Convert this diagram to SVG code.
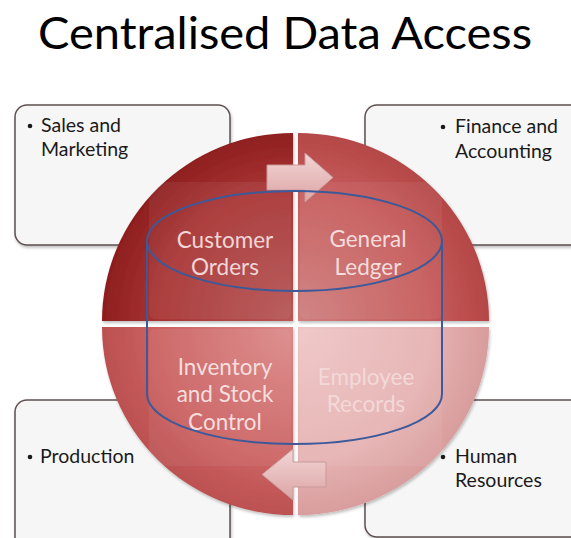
<svg xmlns="http://www.w3.org/2000/svg" width="571" height="538" viewBox="0 0 571 538">
<defs>
<style>
.box{fill:#f6f6f6;stroke:#5e5050;stroke-width:1.5}
.btxt{font-family:Lato,"Liberation Sans",sans-serif;font-size:19.5px;fill:#1a1a1a}
.qtxt{font-family:Lato,"Liberation Sans",sans-serif;font-size:22.5px;text-anchor:middle}
.cyl{fill:none;stroke:#3c5a9a;stroke-width:2}
.arrow{stroke:#c89a9a;stroke-width:1}
</style>
<radialGradient id="gTL" gradientUnits="userSpaceOnUse" cx="293" cy="321" r="191">
<stop offset="0" stop-color="#b65656"/><stop offset="0.7" stop-color="#a83434"/><stop offset="1" stop-color="#8e1e1e"/>
</radialGradient>
<radialGradient id="gTR" gradientUnits="userSpaceOnUse" cx="298" cy="321" r="191">
<stop offset="0" stop-color="#ce7e7e"/><stop offset="0.7" stop-color="#c65a5a"/><stop offset="1" stop-color="#b44646"/>
</radialGradient>
<radialGradient id="gBL" gradientUnits="userSpaceOnUse" cx="293" cy="327" r="191">
<stop offset="0" stop-color="#dc8a8a"/><stop offset="0.7" stop-color="#cc6262"/><stop offset="1" stop-color="#bc5050"/>
</radialGradient>
<radialGradient id="gBR" gradientUnits="userSpaceOnUse" cx="298" cy="327" r="191">
<stop offset="0" stop-color="#efc6c6"/><stop offset="0.7" stop-color="#e6b2b2"/><stop offset="1" stop-color="#d89c9c"/>
</radialGradient>
<linearGradient id="gArr" x1="0" y1="0" x2="0" y2="1">
<stop offset="0" stop-color="#f3d6d6"/><stop offset="1" stop-color="#dca4a4"/>
</linearGradient>
<filter id="sh" x="-10%" y="-10%" width="120%" height="120%">
<feDropShadow dx="1" dy="2" stdDeviation="1.5" flood-color="#000" flood-opacity="0.25"/>
</filter>
</defs>
<rect width="571" height="538" fill="#ffffff"/>
<text id="title" x="285" y="49" font-family="Lato,'Liberation Sans',sans-serif" font-size="44" text-anchor="middle" fill="#000" textLength="494" lengthAdjust="spacingAndGlyphs">Centralised Data Access</text>

<g id="box-sales" filter="url(#sh)">
<rect class="box" x="15" y="105" width="215" height="140" rx="12"/>
</g>
<g id="box-finance" filter="url(#sh)">
<rect class="box" x="365" y="105" width="220" height="140" rx="12"/>
</g>
<g id="box-production" filter="url(#sh)">
<rect class="box" x="15" y="400" width="215" height="150" rx="12"/>
</g>
<g id="box-hr" filter="url(#sh)">
<rect class="box" x="365" y="400" width="220" height="137" rx="12"/>
</g>

<g id="q-customer">
<path d="M293 321 L102 321 A191 188 0 0 1 293 133 Z" fill="url(#gTL)" filter="url(#sh)"/>
<rect x="149" y="182" width="142" height="137" rx="6" fill="#ffffff" fill-opacity="0.06"/>
</g>
<g id="q-ledger">
<path d="M298 321 L298 133 A191 188 0 0 1 489 321 Z" fill="url(#gTR)" filter="url(#sh)"/>
<rect x="300" y="182" width="142" height="137" rx="6" fill="#ffffff" fill-opacity="0.06"/>
</g>
<g id="q-inventory">
<path d="M293 327 L293 515 A191 188 0 0 1 102 327 Z" fill="url(#gBL)" filter="url(#sh)"/>
<rect x="149" y="329" width="142" height="137" rx="6" fill="#ffffff" fill-opacity="0.06"/>
</g>
<g id="q-employee">
<path d="M298 327 L489 327 A191 188 0 0 1 298 515 Z" fill="url(#gBR)" filter="url(#sh)"/>
<rect x="300" y="329" width="142" height="137" rx="6" fill="#ffffff" fill-opacity="0.06"/>
</g>

<g id="connectors">
<path class="arrow" d="M267 165 L305 165 L305 153 L333 177.5 L305 202 L305 190 L267 190 Z" fill="url(#gArr)"/>
<path class="arrow" d="M326 462 L293 462 L293 449 L262 474.5 L293 500 L293 487 L326 487 Z" fill="url(#gArr)"/>
</g>

<g id="t-sales">
<circle cx="30" cy="126" r="2.3" fill="#1a1a1a"/>
<text x="41" y="132" class="btxt">Sales and</text>
<text x="41" y="156" class="btxt">Marketing</text>
</g>
<g id="t-finance">
<circle cx="443" cy="127" r="2.3" fill="#1a1a1a"/>
<text x="455" y="133" class="btxt">Finance and</text>
<text x="455" y="158" class="btxt">Accounting</text>
</g>
<g id="t-production">
<circle cx="30" cy="457" r="2.3" fill="#1a1a1a"/>
<text x="40" y="463" class="btxt">Production</text>
</g>
<g id="t-hr">
<circle cx="443" cy="457" r="2.3" fill="#1a1a1a"/>
<text x="455" y="463" class="btxt">Human</text>
<text x="455" y="487" class="btxt">Resources</text>
</g>

<g id="t-customer" class="qtxt" fill="#f0d6d6">
<text x="225" y="248">Customer</text>
<text x="225" y="275">Orders</text>
</g>
<g id="t-ledger" class="qtxt" fill="#f4dcdc">
<text x="368" y="247">General</text>
<text x="368" y="275">Ledger</text>
</g>
<g id="t-inventory" class="qtxt" fill="#f6dede">
<text x="225" y="375">Inventory</text>
<text x="225" y="402">and Stock</text>
<text x="225" y="430">Control</text>
</g>
<g id="t-employee" class="qtxt" fill="#f3d8d8">
<text x="366" y="385">Employee</text>
<text x="366" y="412">Records</text>
</g>

<g id="cylinder">
<ellipse class="cyl" cx="294.5" cy="241" rx="147.5" ry="50"/>
<path class="cyl" d="M147 241 L147 394 A147.5 50 0 0 0 442 394 L442 241"/>
</g>
</svg>
